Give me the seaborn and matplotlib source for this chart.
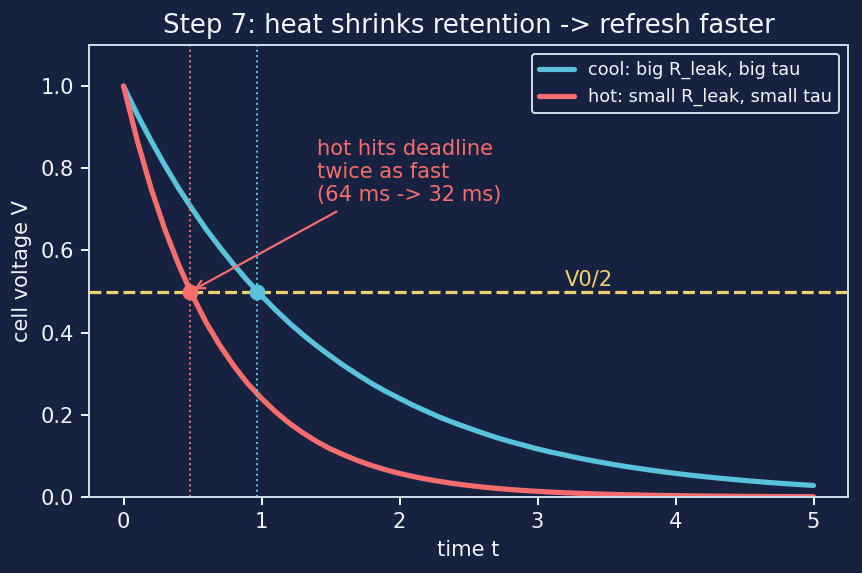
"""
plot.py - step 7: retention curves of a leaky DRAM cell, cool vs hot.
Output: out.png (862x573)
"""

import matplotlib
matplotlib.use("Agg")
import matplotlib.pyplot as plt
import pandas as pd
import seaborn as sns

BG = "#172140"
FG = "#f2f4f8"
SPINE = "#cfd6e4"
COOL = "#58c3da"
HOT = "#f76d6d"
GOLD = "#f2d36b"

# time axis and cell voltage (step 0.1)
TIME = [round(0.1 * i, 1) for i in range(51)]
V_COOL = [1.000, 0.931, 0.867, 0.807, 0.751, 0.700, 0.651, 0.607, 0.565, 0.526,
          0.490, 0.456, 0.424, 0.395, 0.368, 0.343, 0.319, 0.297, 0.276, 0.257,
          0.240, 0.223, 0.208, 0.193, 0.180, 0.168, 0.156, 0.145, 0.135, 0.126,
          0.117, 0.109, 0.102, 0.0947, 0.0882, 0.0821, 0.0764, 0.0712, 0.0663, 0.0617,
          0.0574, 0.0535, 0.0498, 0.0464, 0.0432, 0.0402, 0.0374, 0.0348, 0.0324, 0.0302,
          0.0281]
V_HOT = [1.000, 0.867, 0.751, 0.651, 0.565, 0.490, 0.424, 0.368, 0.319, 0.276,
         0.240, 0.208, 0.180, 0.156, 0.135, 0.117, 0.102, 0.0882, 0.0764, 0.0663,
         0.0574, 0.0498, 0.0432, 0.0374, 0.0324, 0.0281, 0.0244, 0.0211, 0.0183, 0.0159,
         0.0138, 0.0119, 0.0103, 0.0090, 0.0078, 0.0067, 0.0058, 0.0051, 0.0044, 0.0038,
         0.0033, 0.0029, 0.0025, 0.0021, 0.0019, 0.0016, 0.0014, 0.0012, 0.0011, 0.0009,
         0.0008]

# half-voltage crossing points
T_HALF = {"cool": 0.970, "hot": 0.485}
V_HALF = 0.5

LABELS = {"cool": "cool: big R_leak, big tau",
          "hot": "hot: small R_leak, small tau"}

sns.set_theme(style="dark", rc={
    "figure.facecolor": BG, "axes.facecolor": BG, "savefig.facecolor": BG,
    "axes.edgecolor": SPINE, "axes.labelcolor": FG, "text.color": FG,
    "xtick.color": FG, "ytick.color": FG, "xtick.bottom": True, "ytick.left": True,
    "axes.grid": False,
})
plt.rcParams["font.family"] = ["DejaVu Sans"]


def main():
    df = pd.DataFrame({
        "t": TIME * 2,
        "V": V_COOL + V_HOT,
        "case": [LABELS["cool"]] * len(TIME) + [LABELS["hot"]] * len(TIME),
    })

    fig = plt.figure(figsize=(862 / 144, 573 / 144), dpi=144)
    ax = fig.add_axes([89 / 862, 1 - 497 / 573, (848 - 89) / 862, (497 - 45) / 573])

    sns.lineplot(data=df, x="t", y="V", hue="case", palette=[COOL, HOT],
                 linewidth=2.6, ax=ax)

    ax.axhline(V_HALF, ls="--", color=GOLD, lw=1.6)
    ax.text(3.2, V_HALF + 0.015, "V0/2", color=GOLD, fontsize=10.5)
    for k, c in [("cool", COOL), ("hot", HOT)]:
        ax.axvline(T_HALF[k], ls=":", color=c, lw=1.0)
        ax.plot([T_HALF[k]], [V_HALF], "o", color=c, ms=7, zorder=5)

    ax.annotate("hot hits deadline\ntwice as fast\n(64 ms -> 32 ms)",
                xy=(T_HALF["hot"], V_HALF), xytext=(1.4, 0.72),
                color=HOT, fontsize=10.5,
                arrowprops=dict(arrowstyle="->", color=HOT, lw=1.1))

    ax.set_ylim(0, 1.1)
    ax.set_xlim(-0.25, 5.25)
    ax.set_xlabel("time t", fontsize=10.5)
    ax.set_ylabel("cell voltage V", fontsize=10.5)
    ax.set_title("Step 7: heat shrinks retention -> refresh faster", fontsize=13, color=FG)
    ax.tick_params(labelsize=10.5, length=4, width=1, colors=FG)
    for s in ax.spines.values():
        s.set_color(SPINE)
        s.set_linewidth(1.0)

    leg = ax.legend(loc="upper right", fontsize=8.8, facecolor=BG, edgecolor=SPINE,
                    framealpha=1.0, title=None)
    for t in leg.get_texts():
        t.set_color(FG)
    for ln in leg.get_lines():
        ln.set_linewidth(2.6)

    fig.savefig("out.png", dpi=144)
    plt.close(fig)


if __name__ == "__main__":
    main()
